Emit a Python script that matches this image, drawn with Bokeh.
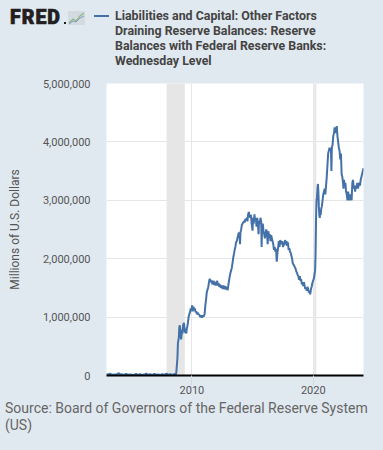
import pandas as pd
from bokeh.plotting import figure
from bokeh.layouts import column
from bokeh.models import (ColumnDataSource, BoxAnnotation, FixedTicker, Div,
                          DatetimeTickFormatter, NumeralTickFormatter, Range1d)
from bokeh.embed import file_html
from bokeh.resources import INLINE

# ---------------- data ----------------
dates = [
    "2002-12-18", "2003-02-05", "2003-04-02", "2003-06-04", "2003-08-06", "2003-10-01", "2003-12-31",
    "2004-01-28", "2004-03-31", "2004-05-26", "2004-07-28", "2004-09-29", "2004-11-24",
    "2005-01-26", "2005-03-30", "2005-05-25", "2005-07-27", "2005-09-28", "2005-11-30",
    "2006-01-25", "2006-03-29", "2006-05-31", "2006-07-26", "2006-09-27", "2006-11-29",
    "2007-01-31", "2007-03-28", "2007-05-30", "2007-07-25", "2007-09-26", "2007-11-28",
    "2008-01-30", "2008-03-26", "2008-05-28", "2008-07-30", "2008-08-27", "2008-09-10",
    "2008-09-24", "2008-10-08", "2008-10-22", "2008-11-05", "2008-11-19", "2008-12-03",
    "2008-12-17", "2008-12-31", "2009-01-14", "2009-01-28", "2009-02-11", "2009-02-25",
    "2009-03-11", "2009-03-25", "2009-04-08", "2009-04-22", "2009-05-06", "2009-05-20",
    "2009-06-03", "2009-06-17", "2009-07-01", "2009-07-15", "2009-07-29", "2009-08-12",
    "2009-09-02", "2009-09-23", "2009-10-14", "2009-11-04", "2009-11-25", "2009-12-16",
    "2010-01-06", "2010-01-27", "2010-02-17", "2010-03-10", "2010-03-31", "2010-04-21",
    "2010-05-12", "2010-06-02", "2010-06-23", "2010-07-14", "2010-08-04", "2010-08-25",
    "2010-09-15", "2010-10-06", "2010-10-27", "2010-11-17", "2010-12-08", "2010-12-29",
    "2011-01-19", "2011-02-09", "2011-03-02", "2011-03-23", "2011-04-13", "2011-05-04",
    "2011-05-25", "2011-06-15", "2011-07-06", "2011-07-27", "2011-08-17", "2011-09-07",
    "2011-09-28", "2011-10-19", "2011-11-09", "2011-11-30", "2011-12-21", "2012-01-11",
    "2012-02-01", "2012-02-22", "2012-03-14", "2012-04-04", "2012-04-25", "2012-05-16",
    "2012-06-06", "2012-06-27", "2012-07-18", "2012-08-08", "2012-08-29", "2012-09-19",
    "2012-10-10", "2012-10-31", "2012-11-21", "2012-12-12", "2013-01-02", "2013-01-23",
    "2013-02-13", "2013-03-06", "2013-03-27", "2013-04-17", "2013-05-08", "2013-05-29",
    "2013-06-19", "2013-07-10", "2013-07-31", "2013-08-21", "2013-09-11", "2013-10-02",
    "2013-10-23", "2013-11-13", "2013-12-04", "2013-12-18", "2014-01-01", "2014-01-22",
    "2014-02-12", "2014-03-05", "2014-03-26", "2014-04-16", "2014-05-07", "2014-05-28",
    "2014-06-18", "2014-07-09", "2014-07-30", "2014-08-20", "2014-09-10", "2014-10-01",
    "2014-10-22", "2014-11-12", "2014-12-03", "2014-12-31", "2015-01-14", "2015-02-04",
    "2015-02-25", "2015-03-18", "2015-04-08", "2015-04-29", "2015-05-20", "2015-06-10",
    "2015-06-30", "2015-07-15", "2015-08-05", "2015-08-26", "2015-09-16", "2015-09-30",
    "2015-10-14", "2015-11-04", "2015-11-25", "2015-12-16", "2016-01-06", "2016-01-27",
    "2016-02-17", "2016-03-09", "2016-03-30", "2016-04-20", "2016-05-11", "2016-06-01",
    "2016-06-22", "2016-07-13", "2016-08-03", "2016-08-24", "2016-09-14", "2016-10-05",
    "2016-10-26", "2016-11-16", "2016-12-07", "2016-12-28", "2017-01-18", "2017-02-08",
    "2017-03-01", "2017-03-22", "2017-04-12", "2017-05-03", "2017-05-24", "2017-06-14",
    "2017-07-05", "2017-07-26", "2017-08-16", "2017-09-06", "2017-09-27", "2017-10-18",
    "2017-11-08", "2017-11-29", "2017-12-20", "2018-01-10", "2018-01-31", "2018-02-21",
    "2018-03-14", "2018-04-04", "2018-04-25", "2018-05-16", "2018-06-06", "2018-06-27",
    "2018-07-18", "2018-08-08", "2018-08-29", "2018-09-19", "2018-10-10", "2018-10-31",
    "2018-11-21", "2018-12-12", "2019-01-02", "2019-01-23", "2019-02-13", "2019-03-06",
    "2019-03-27", "2019-04-17", "2019-05-08", "2019-05-29", "2019-06-19", "2019-07-10",
    "2019-07-31", "2019-08-21", "2019-09-11", "2019-10-02", "2019-10-23", "2019-11-13",
    "2019-12-04", "2019-12-25", "2020-01-15", "2020-02-05", "2020-02-26", "2020-03-11",
    "2020-03-25", "2020-04-08", "2020-04-22", "2020-05-06", "2020-05-20", "2020-06-03",
    "2020-06-17", "2020-07-01", "2020-07-15", "2020-07-29", "2020-08-12", "2020-08-26",
    "2020-09-16", "2020-10-07", "2020-10-28", "2020-11-18", "2020-12-09", "2020-12-30",
    "2021-01-20", "2021-02-10", "2021-03-03", "2021-03-24", "2021-04-14", "2021-05-05",
    "2021-05-26", "2021-06-16", "2021-06-30", "2021-07-14", "2021-08-04", "2021-08-25",
    "2021-09-15", "2021-10-06", "2021-10-27", "2021-11-17", "2021-12-08", "2021-12-29",
    "2022-01-19", "2022-02-09", "2022-03-02", "2022-03-23", "2022-04-13", "2022-05-04",
    "2022-05-25", "2022-06-15", "2022-06-29", "2022-07-13", "2022-08-03", "2022-08-24",
    "2022-09-14", "2022-10-05", "2022-10-26", "2022-11-16", "2022-12-07", "2022-12-28",
    "2023-01-18", "2023-02-08", "2023-03-01", "2023-03-22", "2023-04-12", "2023-05-03",
    "2023-05-24", "2023-06-14", "2023-07-05", "2023-07-26", "2023-08-16", "2023-09-06",
    "2023-09-27", "2023-10-18", "2023-11-08", "2023-11-29", "2023-12-20", "2024-01-10",
    "2024-01-31", "2024-02-21",
]
reserves = [
    25000, 15000, 30000, 12000, 18000, 14000, 40000,
    12000, 20000, 10000, 25000, 12000, 18000,
    15000, 10000, 28000, 12000, 20000, 10000,
    16000, 30000, 12000, 20000, 10000, 25000,
    12000, 18000, 10000, 22000, 12000, 30000,
    14000, 20000, 10000, 25000, 15000, 20000,
    90000, 200000, 300000, 550000, 600000, 650000,
    820000, 860000, 790000, 650000, 620000, 700000,
    780000, 720000, 850000, 880000, 900000, 820000,
    760000, 730000, 760000, 720000, 800000, 830000,
    900000, 1000000, 1050000, 1080000, 1150000, 1100000,
    1200000, 1100000, 1180000, 1120000, 1150000, 1080000,
    1100000, 1050000, 1080000, 1040000, 1050000, 1020000,
    1000000, 1030000, 990000, 1030000, 1010000, 1020000,
    1060000, 1200000, 1300000, 1420000, 1470000, 1500000,
    1580000, 1650000, 1640000, 1600000, 1630000, 1560000,
    1600000, 1620000, 1550000, 1600000, 1540000, 1580000,
    1620000, 1540000, 1580000, 1520000, 1560000, 1500000,
    1540000, 1520000, 1480000, 1540000, 1500000, 1480000,
    1530000, 1470000, 1510000, 1460000, 1550000, 1630000,
    1700000, 1760000, 1800000, 1850000, 1930000, 2020000,
    2080000, 2150000, 2200000, 2280000, 2300000, 2350000,
    2400000, 2450000, 2420000, 2250000, 2450000, 2500000,
    2580000, 2600000, 2620000, 2640000, 2620000, 2680000,
    2650000, 2700000, 2640000, 2760000, 2800000, 2740000,
    2700000, 2750000, 2600000, 2480000, 2700000, 2600000,
    2760000, 2650000, 2700000, 2550000, 2700000, 2600000,
    2420000, 2650000, 2600000, 2700000, 2640000, 2200000,
    2550000, 2600000, 2480000, 2420000, 2350000, 2420000,
    2500000, 2450000, 2250000, 2470000, 2380000, 2420000,
    2300000, 2400000, 2350000, 2300000, 2250000, 2150000,
    2200000, 2120000, 2170000, 1950000, 2100000, 2200000,
    2300000, 2200000, 2320000, 2270000, 2250000, 2300000,
    2200000, 2280000, 2230000, 2320000, 2250000, 2300000,
    2220000, 2280000, 2150000, 2180000, 2120000, 2100000,
    2050000, 2000000, 1920000, 1900000, 1880000, 1850000,
    1830000, 1780000, 1760000, 1720000, 1700000, 1640000,
    1700000, 1620000, 1650000, 1560000, 1600000, 1530000,
    1600000, 1530000, 1480000, 1500000, 1450000, 1520000,
    1480000, 1420000, 1440000, 1390000, 1480000, 1520000,
    1580000, 1620000, 1650000, 1720000, 1800000, 2100000,
    2700000, 3000000, 3050000, 3200000, 3280000, 3150000,
    2900000, 2750000, 2700000, 2800000, 2750000, 2850000,
    2900000, 3000000, 3100000, 3150000, 3200000, 3100000,
    3250000, 3400000, 3600000, 3800000, 3850000, 3900000,
    3850000, 3900000, 3500000, 3900000, 3950000, 4100000,
    4150000, 4250000, 4150000, 4200000, 4270000, 4100000,
    4000000, 3900000, 3850000, 3700000, 3800000, 3450000,
    3400000, 3300000, 3200000, 3350000, 3250000, 3300000,
    3150000, 3100000, 3000000, 3150000, 3050000, 3000000,
    3100000, 3050000, 3000000, 3300000, 3350000, 3200000,
    3250000, 3150000, 3250000, 3200000, 3300000, 3200000,
    3250000, 3300000, 3250000, 3350000, 3400000, 3450000,
    3500000, 3550000,
]
recession_starts = ["2007-12-01", "2020-02-01"]
recession_ends = ["2009-06-01", "2020-04-01"]
tick_years = ["2010-01-01", "2020-01-01"]
y_ticks = [0, 1000000, 2000000, 3000000, 4000000, 5000000]

title_lines = ["Liabilities and Capital: Other Factors",
               "Draining Reserve Balances: Reserve",
               "Balances with Federal Reserve Banks:",
               "Wednesday Level"]
source_lines = ["Source: Board of Governors of the Federal Reserve System", "(US)"]

# ---------------- styling ----------------
BG = "#e1e9f0"
FONT = "Roboto"
LINE = "#4472a8"
W = 383
HEAD_H, MAIN_H = 76, 329
FOOT_H = 450 - HEAD_H - MAIN_H

# ---------------- header (HTML text) ----------------
icon_svg = ('<svg width="17" height="14" style="position:absolute;left:68px;top:11px">'
            '<rect x="0" y="0" width="17" height="14" fill="#d3dbe1"/>'
            '<polyline points="1,12 5,8 8,10 12,5 16,2" fill="none" stroke="#8db87c" stroke-width="1.2"/>'
            '<polyline points="1,13 5,10 8,11 12,7 16,5" fill="none" stroke="#7d9cc0" stroke-width="1"/>'
            '</svg>')
header_html = (
    f'<div style="position:relative;width:{W}px;height:{HEAD_H}px;font-family:{FONT};">'
    '<span style="position:absolute;left:10px;top:5.8px;font-size:19.5px;font-weight:900;'
    'letter-spacing:1px;-webkit-text-stroke:0.7px #231f20;color:#231f20;line-height:24px;'
    'white-space:nowrap;">FRED</span>'
    '<span style="position:absolute;left:63.5px;top:21.5px;width:2.5px;height:2.5px;background:#231f20;"></span>'
    + icon_svg +
    f'<span style="position:absolute;left:94px;top:14.7px;width:15px;height:2px;background:{LINE};"></span>'
    '<div style="position:absolute;left:115px;top:7.6px;font-size:12.4px;font-weight:bold;'
    'color:#444444;line-height:15px;white-space:nowrap;">'
    + "<br>".join(title_lines) +
    '</div></div>'
)
header = Div(text=header_html, width=W, height=HEAD_H, margin=0)

footer_html = (
    f'<div style="position:relative;width:{W}px;height:{FOOT_H}px;font-family:{FONT};">'
    '<div style="position:absolute;left:5px;top:-5px;font-size:14px;color:#666666;'
    'line-height:17px;white-space:nowrap;">'
    + "<br>".join(source_lines) +
    '</div></div>'
)
footer = Div(text=footer_html, width=W, height=FOOT_H, margin=0)

# ---------------- main chart ----------------
src = ColumnDataSource(dict(date=pd.to_datetime(dates), value=reserves))

p = figure(width=W, height=MAIN_H, x_axis_type="datetime", output_backend="svg",
           toolbar_location=None,
           x_range=Range1d(pd.Timestamp(dates[0]), pd.Timestamp(dates[-1])),
           y_range=Range1d(0, 5000000),
           min_border_left=106, min_border_right=20,
           min_border_top=7, min_border_bottom=30)
p.border_fill_color = BG
p.background_fill_color = "white"
p.outline_line_color = None

for s, e in zip(recession_starts, recession_ends):
    p.add_layout(BoxAnnotation(left=pd.Timestamp(s), right=pd.Timestamp(e),
                               fill_color="#e6e6e6", fill_alpha=1.0,
                               line_color=None, level="underlay"))

p.line("date", "value", source=src, line_color=LINE, line_width=2)

p.xaxis.ticker = FixedTicker(ticks=[pd.Timestamp(t).value // 10**6 for t in tick_years])
p.xaxis.formatter = DatetimeTickFormatter(years="%Y", months="%Y", days="%Y")
p.xaxis.axis_line_color = "black"
p.xaxis.axis_line_width = 2
p.xaxis.major_tick_in = 0
p.xaxis.major_tick_out = 10
p.xaxis.major_tick_line_color = "#d3dae1"
p.xaxis.minor_tick_line_color = None
p.xaxis.major_label_text_font = FONT
p.xaxis.major_label_text_font_size = "11px"
p.xaxis.major_label_text_color = "#555555"
p.xaxis.major_label_standoff = 0

p.yaxis.ticker = FixedTicker(ticks=y_ticks)
p.yaxis.formatter = NumeralTickFormatter(format="0,0")
p.yaxis.axis_line_color = None
p.yaxis.major_tick_in = 0
p.yaxis.major_tick_out = 0
p.yaxis.major_tick_line_color = None
p.yaxis.minor_tick_line_color = None
p.yaxis.minor_tick_out = 0
p.yaxis.major_label_text_font = FONT
p.yaxis.major_label_text_font_size = "11px"
p.yaxis.major_label_text_color = "#555555"
p.yaxis.major_label_standoff = 16
p.yaxis.axis_label = "Millions of U.S. Dollars"
p.yaxis.axis_label_text_font = FONT
p.yaxis.axis_label_text_font_size = "12px"
p.yaxis.axis_label_text_font_style = "normal"
p.yaxis.axis_label_text_color = "#555555"
p.yaxis.axis_label_standoff = 18

p.xgrid.grid_line_color = "#e6e6e6"
p.ygrid.grid_line_color = "#e6e6e6"

layout = column(header, p, footer, spacing=0)

html = file_html(layout, INLINE)
html = html.replace("</head>",
                    "<style>html,body{margin:0;padding:0;overflow:hidden;"
                    "background-color:#e1e9f0;}</style></head>", 1)
open("out.html", "w").write(html)
